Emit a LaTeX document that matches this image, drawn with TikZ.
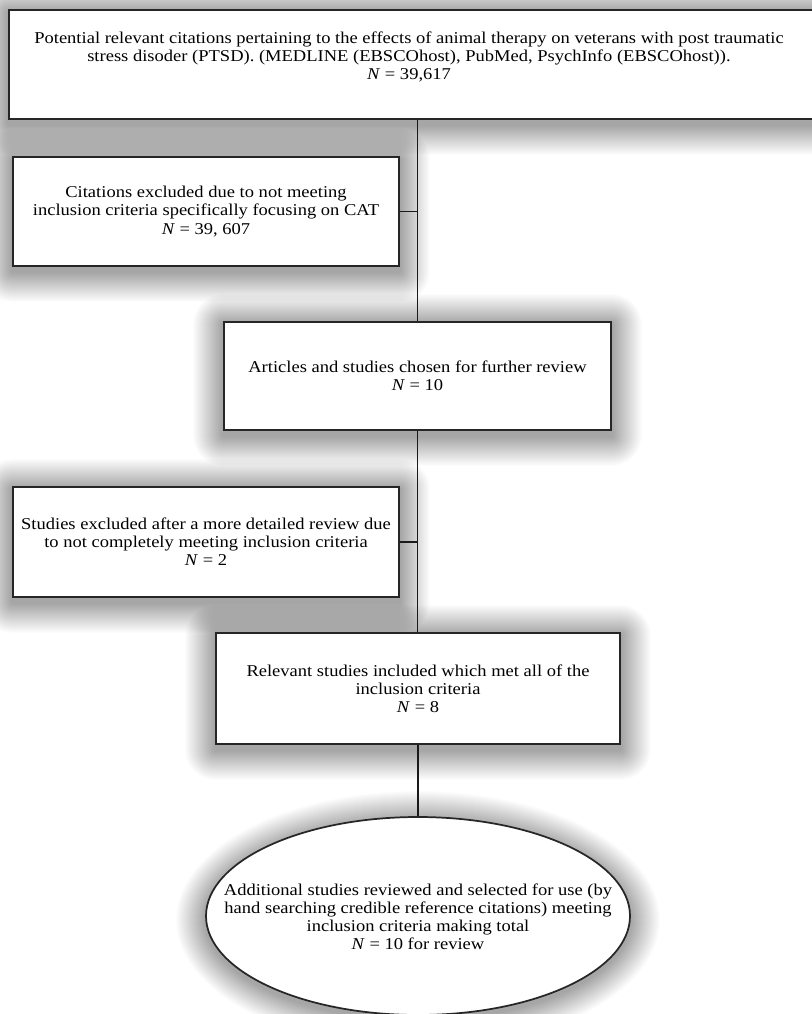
\documentclass[tikz,border=0pt]{standalone}
\usepackage{fontspec}
\setmainfont{Liberation Serif}[FakeStretch=1.12]
\usetikzlibrary{shapes.geometric,backgrounds}
\pgfdeclarelayer{bgzero}
\pgfsetlayers{bgzero,background,main}
\begin{document}
\begin{tikzpicture}[x=0.75pt,y=-0.75pt,
  boxstyle/.style={draw=black!85, line width=1.3pt, fill=white, rectangle, inner sep=0pt},
  txt/.style={align=center, font=\fontsize{12.4}{13.6}\selectfont, inner sep=0pt},
  shadowlayer/.style={fill=black, opacity=0.011},
  link/.style={draw=black!90, line width=1.1pt}]
\useasboundingbox (0,0) rectangle (812,1014);
\clip (0,0) rectangle (812,1014);

\node[boxstyle, minimum width=821*0.75pt, minimum height=109*0.75pt] (top) at (419.5,64.5) {};
\node[txt] (toptext) at (409,57) {Potential relevant citations pertaining to the effects of animal therapy on veterans with post traumatic\\stress disoder (PTSD). (MEDLINE (EBSCOhost), PubMed, PsychInfo (EBSCOhost)).\\\textit{N} = 39,617};

\node[boxstyle, txt, minimum width=386*0.75pt, minimum height=109*0.75pt] (excl1) at (206,211.5) {Citations excluded due to not meeting\\inclusion criteria specifically focusing on CAT\\\textit{N} = 39, 607};

\node[boxstyle, txt, minimum width=387*0.75pt, minimum height=108*0.75pt] (chosen) at (417.5,376) {Articles and studies chosen for further review\\\textit{N} = 10};

\node[boxstyle, txt, minimum width=386*0.75pt, minimum height=110*0.75pt] (excl2) at (206,542) {Studies excluded after a more detailed review due\\to not completely meeting inclusion criteria\\\textit{N} = 2};

\node[boxstyle, txt, minimum width=404*0.75pt, minimum height=111*0.75pt] (incl) at (418,688.5) {Relevant studies included which met all of the\\inclusion criteria\\\textit{N} = 8};

\node[ellipse, draw=black!85, line width=1.3pt, fill=white, inner sep=0pt,
  minimum width=424*0.75pt, minimum height=198*0.75pt] (final) at (418,916) {};
\node[txt] (finaltext) at (418,917) {Additional studies reviewed and selected for use (by\\hand searching credible reference citations) meeting\\inclusion criteria making total\\\textit{N} = 10 for review};

\draw[link] (top.south -| chosen.north) -- (chosen.north);
\draw[link] (excl1.east) -- (excl1.east -| chosen.north);
\draw[link] (chosen.south) -- (chosen.south |- incl.north);
\draw[link] (excl2.east) -- (excl2.east -| chosen.south);
\draw[link] (incl.south) -- (final.north);

\begin{pgfonlayer}{background}
\foreach \n in {top,excl1,chosen,excl2,incl}{
  \foreach \i in {1,...,30}{
    \fill[shadowlayer, rounded corners=\i*0.75pt]
      ([shift={(-\i,-\i+3)}]\n.north west) rectangle ([shift={(\i,\i+5)}]\n.south east);
  }
}
\foreach \i in {1,...,30}{
  \fill[shadowlayer] ([yshift=-3pt]final.center) ellipse [x radius=212+\i, y radius=99+\i];
}
\end{pgfonlayer}
\begin{pgfonlayer}{bgzero}
\fill[white] (0,0) rectangle (812,1014);
\end{pgfonlayer}
\end{tikzpicture}
\end{document}
